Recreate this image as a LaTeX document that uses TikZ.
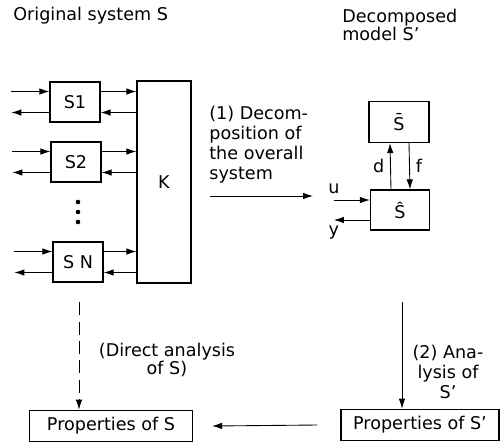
\documentclass[tikz,border=0pt]{standalone}
\usepackage{fontspec}
\setmainfont{DejaVu Sans}
\usetikzlibrary{positioning, calc}
\usetikzlibrary{arrows.meta}

\begin{document}
\begin{tikzpicture}[
                x=0.02cm, y=-0.02cm,
                font=\fontsize{10}{12}\selectfont,
                sub/.style={rectangle, draw, line width=0.7pt, minimum width=1cm, minimum height=0.8cm, inner sep=1pt},
                prop/.style={rectangle, draw, line width=0.7pt, minimum height=0.63cm, inner sep=3pt},
                note/.style={align=left, inner sep=0pt},
                dot/.style={circle, fill, inner sep=0pt, minimum size=2.6pt},
                line/.style={draw, line width=0.5pt, -{Latex[length=2mm, width=1.3mm]}},
                dashline/.style={line, dash pattern=on 2.6mm off 1.3mm}
            ]
                \useasboundingbox (0,0) rectangle (500,444);

                % Original system
                \node[note, anchor=west] (orig) at (13,16) {Original system S};
                \node[sub] (s1) at (75,102) {S1};
                \node[sub] (s2) at (76,162) {S2};
                \foreach \i in {1,2,3}
                    \node[dot] (dot\i) at (78,192+10*\i) {};
                \node[sub] (sn) at (78,262) {S N};
                \node[sub, minimum width=1.08cm, minimum height=4.04cm] (k) at (164,182) {K};

                \foreach \s in {s1, s2, sn} {
                    \path[line] ([yshift=0.21cm]\s.west) ++(-38,0) -- ([yshift=0.21cm]\s.west);
                    \path[line] ([yshift=-0.21cm]\s.west) -- ++(-38,0);
                    \path[line] ([yshift=0.21cm]\s.east) -- ([yshift=0.21cm]\s.east -| k.west);
                    \path[line] ([yshift=-0.21cm]\s.east -| k.west) -- ([yshift=-0.21cm]\s.east);
                }

                % Decomposition
                \node[note, anchor=north west, font=\fontsize{10}{11.3}\selectfont] (dec) at (209,106) {(1) Decom-\\position of\\the overall\\system};
                \coordinate (decA) at (210,196);
                \coordinate (decB) at (313,196);
                \path[line] (decA) -- (decB);

                % Decomposed model
                \node[note, anchor=north west, font=\fontsize{10}{10.2}\selectfont] (model) at (342,9) {Decomposed\\model S'};
                \node[sub, minimum width=1.2cm, minimum height=0.82cm] (sbar) at (399,122) {S^^^^0304};
                \node[sub, minimum width=1.18cm] (shat) at (400,210) {Ŝ};
                \path[line] ([xshift=-0.18cm]shat.north) -- node[left] (dlab) {d} ([xshift=-0.18cm]sbar.south);
                \path[line] ([xshift=0.2cm]sbar.south) -- node[right] (flab) {f} ([xshift=0.2cm]shat.north);
                \path[line] ([yshift=0.2cm]shat.west) ++(-36,0) node[above] (ulab) {u} -- ([yshift=0.2cm]shat.west);
                \path[line] ([yshift=-0.2cm]shat.west) -- ++(-36,0) node[below] (ylab) {y};

                % Properties
                \node[prop, minimum width=3.26cm] (ps) at (111,426) {Properties of S};
                \node[prop, minimum width=3.16cm] (psp) at (420,425) {Properties of S'};

                \coordinate (dirA) at (79,302);
                \path[dashline] (dirA) -- (dirA |- ps.north);
                \node[align=center, font=\fontsize{10}{10.5}\selectfont] (dir) at (167,360) {(Direct analysis\\of S)};

                \coordinate (anaA) at (402,302);
                \path[line] (anaA) -- (anaA |- psp.north);
                \node[align=center, font=\fontsize{10}{11.3}\selectfont] (ana) at (448,372) {(2) Ana-\\lysis of\\S'};

                \path[line] ([xshift=-0.46cm]psp.west) -- ([xshift=0.38cm]ps.east);
            \end{tikzpicture}
\end{document}
